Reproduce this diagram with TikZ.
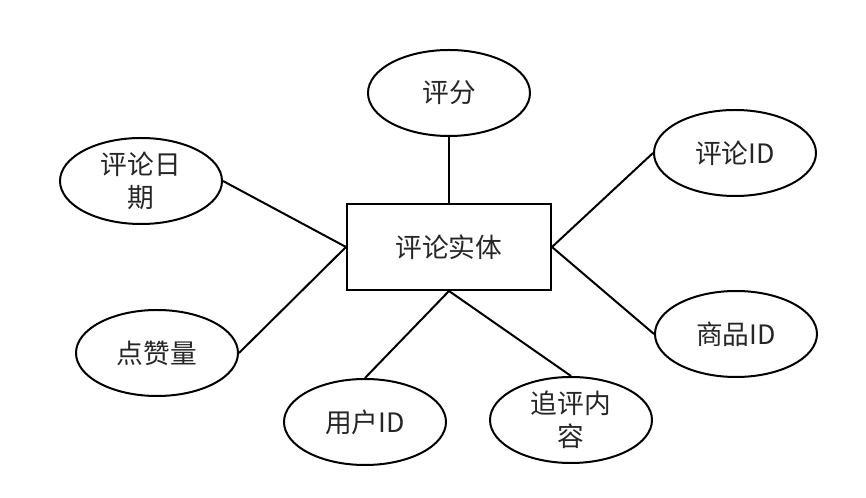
\documentclass[tikz,border=0pt]{standalone}
\usepackage{fontspec}
\newfontfamily\cjk{Noto Sans CJK SC}
\usetikzlibrary{shapes.geometric}
\definecolor{ink}{RGB}{0,0,0}
\definecolor{word}{RGB}{38,38,38}
\tikzset{
  every picture/.style={color=ink, line width=0.5mm, font=\cjk\fontsize{19}{23.4}\selectfont},
  attr/.style={ellipse, draw=ink, text=word, inner sep=0pt, minimum width=40.5mm, minimum height=21.5mm, align=center},
  entity/.style={rectangle, draw=ink, text=word, inner sep=0pt, minimum width=51mm, minimum height=21.5mm},
  link/.style={line width=0.5mm},
}

\begin{document}
\begin{tikzpicture}
  \useasboundingbox (-112.25mm,-62.75mm) rectangle (104.25mm,61.75mm);
  \node[entity] (ent) at (0,0) {评论实体};
  \node[attr] (score) at (0,38.5mm) {评分};
  \node[attr] (date) at (-77mm,16.5mm) {评论日\\期};
  \node[attr] (likes) at (-73mm,-26.5mm) {点赞量};
  \node[attr] (user) at (-21mm,-43.75mm) {用户ID};
  \node[attr] (follow) at (30.5mm,-43.25mm) {追评内\\容};
  \node[attr] (cid) at (71.5mm,23.5mm) {评论ID};
  \node[attr] (gid) at (71.75mm,-21.75mm) {商品ID};
  \foreach \a/\p/\q in {score/south/north,date/east/west,likes/east/west,user/north/south,follow/north/south,cid/west/east,gid/west/east} { \draw[link] (\a.\p) -- (ent.\q); }
\end{tikzpicture}
\end{document}
